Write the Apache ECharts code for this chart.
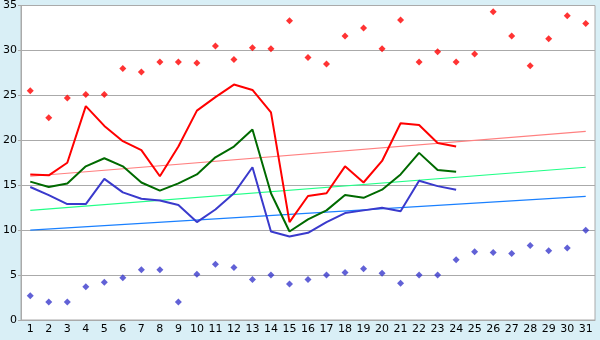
<!DOCTYPE html>
<html>
<head>
<meta charset="utf-8">
<script src="https://cdn.jsdelivr.net/npm/echarts@6/dist/echarts.min.js"></script>
<style>
  html, body { margin: 0; padding: 0; background: #d9eff6; }
  #chart { width: 600px; height: 340px; }
</style>
</head>
<body>
<div id="chart"></div>
<script>
// Days of the month
const days = Array.from({ length: 31 }, (_, i) => String(i + 1));

// Daily mean maximum, mean and minimum temperatures (days 1-24)
const maxTemp = [16.2, 16.1, 17.5, 23.8, 21.6, 19.9, 18.9, 16.0, 19.3, 23.3,
                 24.8, 26.2, 25.6, 23.1, 10.9, 13.8, 14.1, 17.1, 15.3, 17.7,
                 21.9, 21.7, 19.7, 19.3];
const meanTemp = [15.4, 14.8, 15.2, 17.1, 18.0, 17.1, 15.3, 14.4, 15.2, 16.2,
                  18.1, 19.3, 21.2, 14.1, 9.85, 11.2, 12.2, 13.9, 13.6, 14.5,
                  16.2, 18.6, 16.7, 16.5];
const minTemp = [14.8, 13.9, 12.9, 12.9, 15.7, 14.2, 13.5, 13.3, 12.8, 10.9,
                 12.3, 14.1, 17.0, 9.85, 9.3, 9.7, 10.9, 11.9, 12.2, 12.5,
                 12.1, 15.5, 14.9, 14.5];

// Record highs and lows per day
const recordHigh = [25.5, 22.5, 24.7, 25.1, 25.1, 28.0, 27.6, 28.7, 28.7, 28.6,
                    30.5, 29.0, 30.3, 30.2, 33.3, 29.2, 28.5, 31.6, 32.5, 30.2,
                    33.4, 28.7, 29.85, 28.7, 29.6, 34.3, 31.6, 28.3, 31.3, 33.85,
                    33.0];
const recordLow = [2.7, 2.0, 2.0, 3.7, 4.2, 4.7, 5.6, 5.6, 2.0, 5.1,
                   6.2, 5.85, 4.5, 5.0, 4.0, 4.5, 5.0, 5.3, 5.7, 5.2,
                   4.1, 5.0, 5.0, 6.7, 7.6, 7.5, 7.4, 8.3, 7.7, 8.0,
                   10.0];

// Linear trend endpoints (day 1 and day 31)
const trendMax = [16.0, 21.0];
const trendMean = [12.2, 17.0];
const trendMin = [10.0, 13.75];

// Y axis ticks
const yMin = 0, yMax = 35, yStep = 5;

const chart = echarts.init(document.getElementById('chart'), null, { renderer: 'canvas' });

function trend(ends) {
  return [[days[0], ends[0]], [days[days.length - 1], ends[1]]];
}

function lineSeries(data, color) {
  return {
    type: 'line', data, symbol: 'none', silent: true,
    lineStyle: { color, width: 2 }, z: 4
  };
}
function trendSeries(ends, color) {
  return {
    type: 'line', data: trend(ends), symbol: 'none', silent: true,
    lineStyle: { color, width: 1.2 }, z: 3
  };
}
function pointSeries(data, color) {
  return {
    type: 'scatter', data, symbol: 'diamond', symbolSize: 7, silent: true,
    itemStyle: { color }, z: 5
  };
}

chart.setOption({
  animation: false,
  backgroundColor: '#d9eff6',
  textStyle: { fontFamily: 'DejaVu Sans' },
  grid: {
    left: 21, right: 5, top: 5, bottom: 20,
    show: true, backgroundColor: '#ffffff', borderColor: '#aaaaaa', borderWidth: 1
  },
  xAxis: {
    type: 'category', data: days, boundaryGap: true,
    axisLine: { lineStyle: { color: '#aaaaaa' } },
    axisTick: { alignWithLabel: true, length: 5, lineStyle: { color: '#333333' } },
    axisLabel: { color: '#000000', fontSize: 11, margin: 4, interval: 0 },
    splitLine: { show: false }
  },
  yAxis: {
    type: 'value', min: yMin, max: yMax, interval: yStep,
    axisLine: { show: true, lineStyle: { color: '#aaaaaa' } },
    axisTick: { show: true, length: 3, lineStyle: { color: '#aaaaaa' } },
    axisLabel: { color: '#000000', fontSize: 11, margin: 4 },
    splitLine: { lineStyle: { color: '#aaaaaa', width: 1 } }
  },
  series: [
    trendSeries(trendMax, '#ff8080'),
    trendSeries(trendMean, '#22ff88'),
    trendSeries(trendMin, '#1a80ff'),
    lineSeries(maxTemp, '#ff0000'),
    lineSeries(meanTemp, '#006a00'),
    lineSeries(minTemp, '#3a3acc'),
    pointSeries(recordHigh, '#ff0000'),
    pointSeries(recordLow, '#3a3acc')
  ]
});
</script>
</body>
</html>
